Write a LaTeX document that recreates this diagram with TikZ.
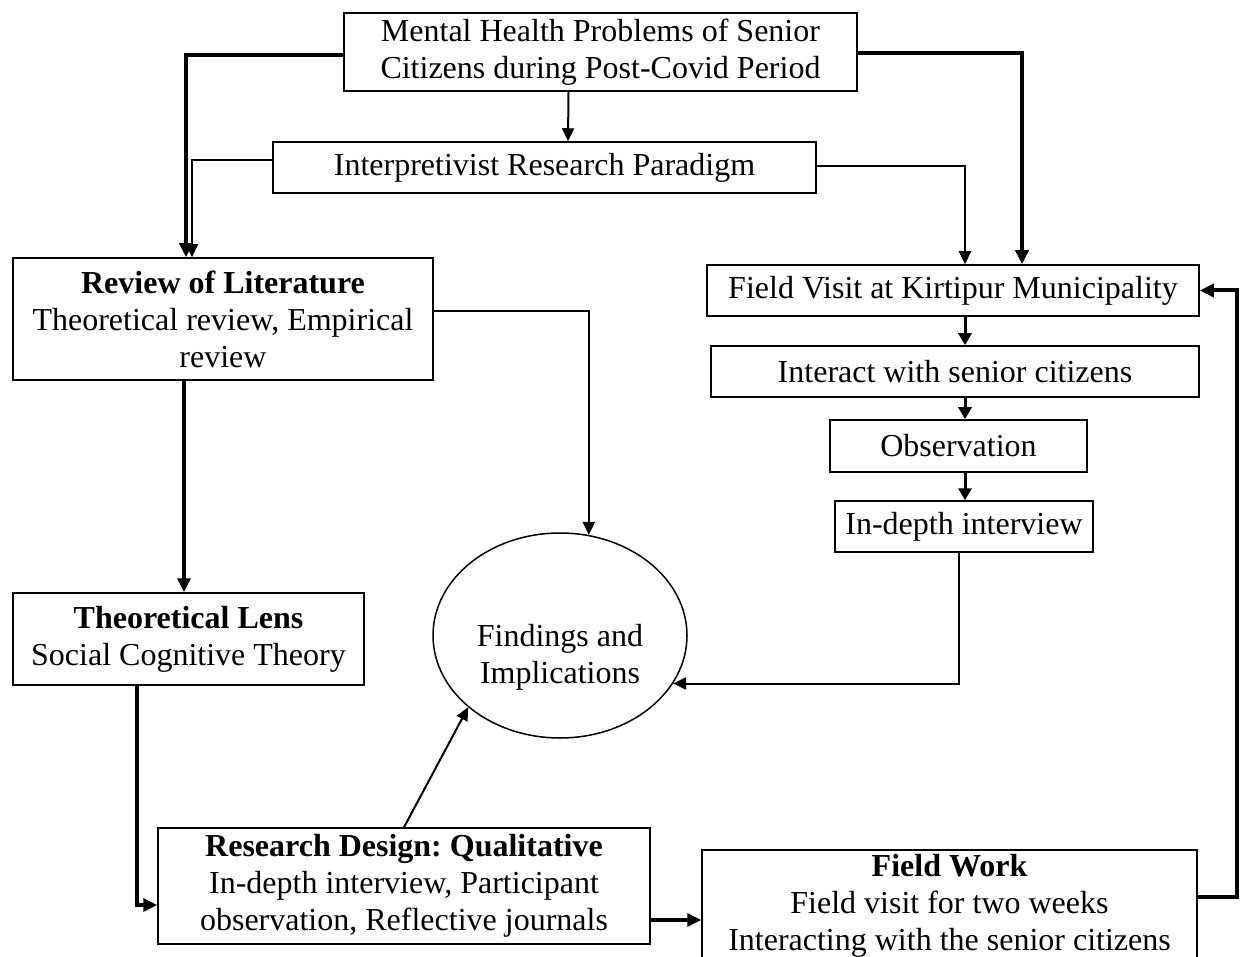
\documentclass[tikz,border=0pt]{standalone}
\usepackage{fontspec}
\setmainfont{Liberation Serif}
\frenchspacing
\usetikzlibrary{arrows.meta,calc,shapes.geometric}
\tikzset{
  box/.style={draw, line width=1.5pt, align=center, inner sep=0pt, font=\fontsize{32}{37}\selectfont},
  oval/.style={draw, ellipse, line width=1.5pt, inner sep=0pt},
  txt/.style={align=center, inner sep=0pt, font=\fontsize{32}{37}\selectfont},
  heavy/.style={line width=4pt, -{Triangle[length=14pt,width=13pt]}},
  light/.style={line width=2pt, -{Triangle[length=13pt,width=12pt]}},
  mid/.style={line width=3pt, -{Triangle[length=12pt,width=13pt]}}
}
\begin{document}
\begin{tikzpicture}[x=1pt,y=-1pt]
\useasboundingbox (0,0) rectangle (1245,957);
\clip (0,0) rectangle (1245,957);
% nodes
\node[box, minimum width=513pt, minimum height=78pt] (mh) at (600.5,52) {Mental Health Problems of Senior\\Citizens during Post-Covid Period};
\node[box, minimum width=543pt, minimum height=51pt] (interp) at (544.5,167.5) {Interpretivist Research Paradigm};
\node[box, minimum width=420pt, minimum height=122pt] (rev) at (223,319) {\textbf{Review of Literature}\\Theoretical review, Empirical\\review};
\node[box, minimum width=492pt, minimum height=51pt] (fv) at (953,290.5) {Field Visit at Kirtipur Municipality};
\node[box, minimum width=488pt, minimum height=51pt] (inter) at (955,371.5) {Interact with senior citizens};
\node[box, minimum width=257pt, minimum height=52pt] (obs) at (958.5,446) {Observation};
\node[box, minimum width=258pt, minimum height=51pt] (idi) at (964,526.5) {In-depth interview};
\node[box, minimum width=351pt, minimum height=92pt] (lens) at (188.5,639) {\textbf{Theoretical Lens}\\Social Cognitive Theory};
\node[oval, minimum width=254pt, minimum height=205pt] (fi) at (560,635.5) {};
\node[txt] (fitxt) at (560,657) {Findings and\\Implications};
\node[box, minimum width=492pt, minimum height=116pt] (rd) at (404,886) {\textbf{Research Design: Qualitative}\\In-depth interview, Participant\\observation, Reflective journals};
\node[box, minimum width=495pt, minimum height=112pt] (fw) at (949.5,906) {\textbf{Field Work}\\Field visit for two weeks\\Interacting with the senior citizens};
% connectors
\draw[heavy] ($(mh.west)+(0,3)$) -| ($(rev.north)+(-37,0)$);
\draw[light] ($(interp.west)+(0,-7.5)$) -| ($(rev.north)+(-31,0)$);
\draw[light] ($(mh.south)+(-32,0)$) -- ($(interp.north)+(23.5,0)$);
\draw[heavy] ($(mh.east)+(0,1)$) -| ($(fv.north)+(69,0)$);
\draw[light] ($(interp.east)+(0,-1.5)$) -| ($(fv.north)+(12,0)$);
\draw[light] ($(rev.east)+(0,-8)$) -| (fi.74);
\draw[heavy] ($(rev.south)+(-39,0)$) -- ($(lens.north)+(-4.5,0)$);
\draw[heavy] ($(lens.south)+(-51.5,0)$) |- ($(rd.west)+(0,19)$);
\draw[light] (rd.north) -- (fi.218);
\draw[heavy] ($(rd.east)+(0,34)$) -- ($(fw.west)+(0,14)$);
\draw[heavy] ($(fw.east)+(0,-9)$) -| ($(fv.east)+(37,0)$) -- (fv.east);
\draw[mid] ($(fv.south)+(12,0)$) -- ($(inter.north)+(10,0)$);
\draw[mid] ($(inter.south)+(10,0)$) -- ($(obs.north)+(6.5,0)$);
\draw[mid] ($(obs.south)+(6.5,0)$) -- ($(idi.north)+(1,0)$);
\draw[light] ($(idi.south)+(-5,0)$) |- (fi.-23);
\end{tikzpicture}
\end{document}
